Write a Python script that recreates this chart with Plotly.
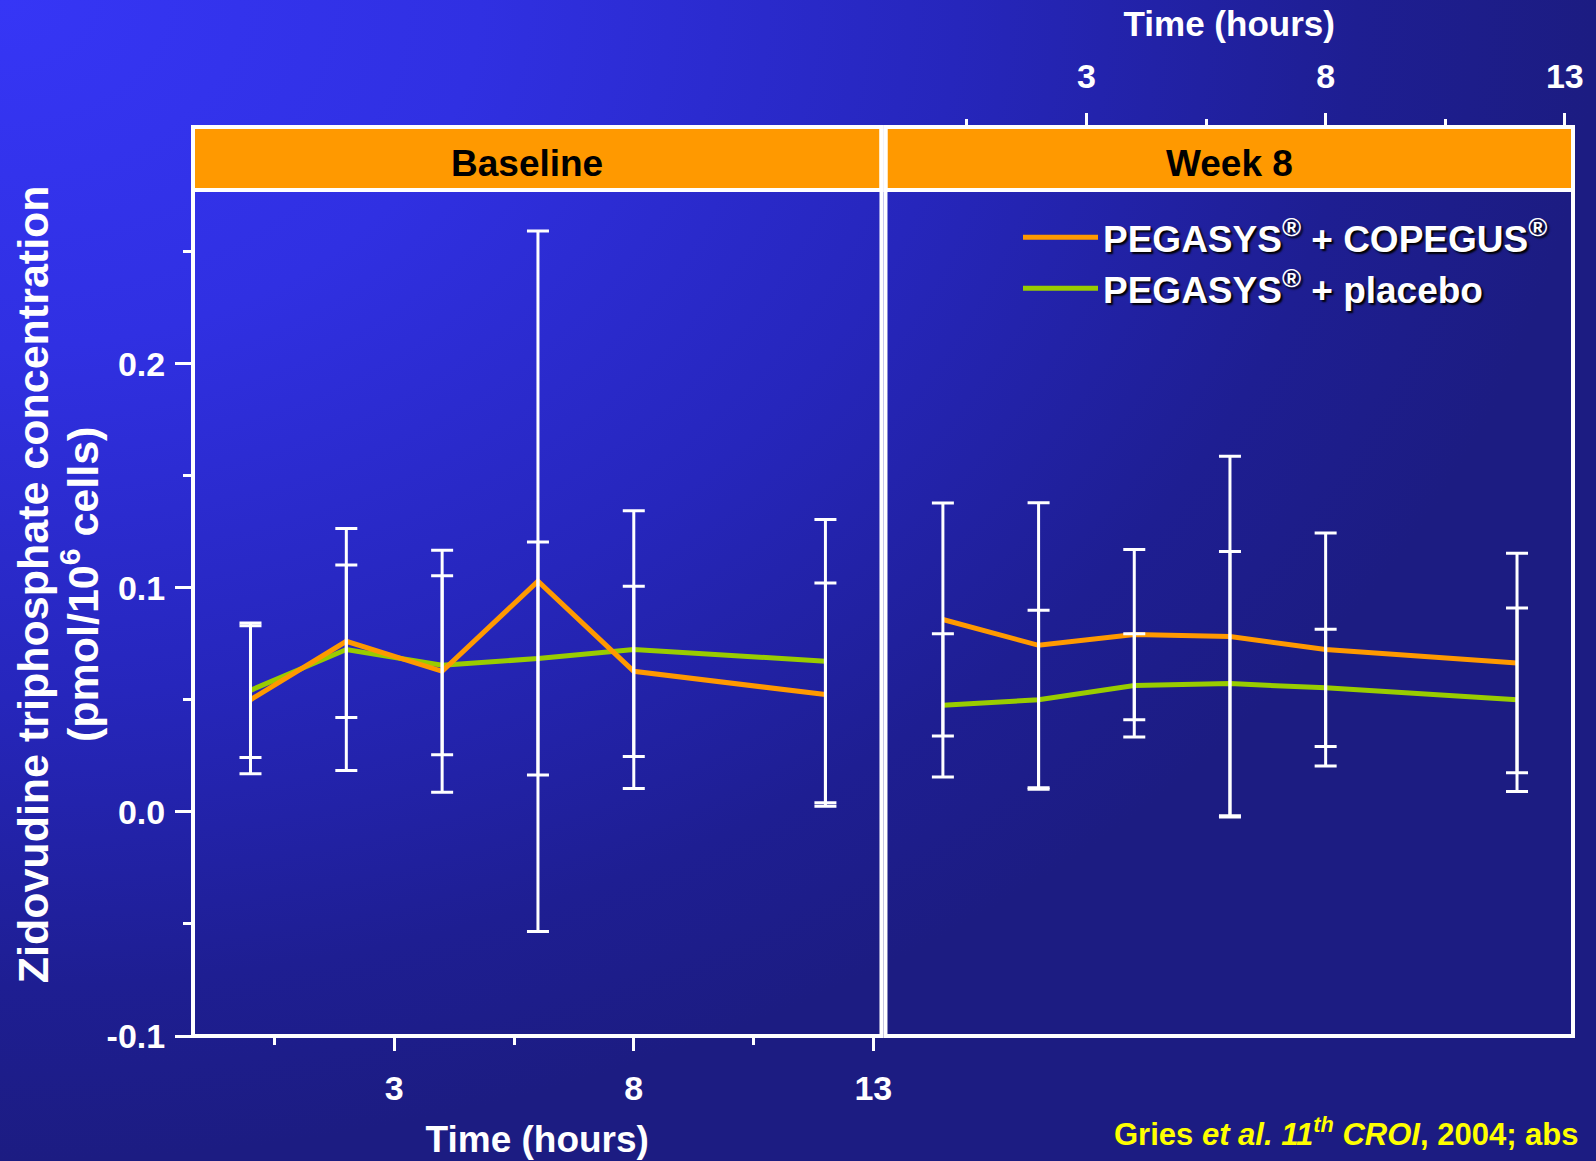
import base64
import plotly.graph_objects as go

# ---------------- data ----------------
time_h = [0, 2, 4, 6, 8, 12]

base_copegus_mean = [0.0501, 0.0762, 0.0628, 0.1030, 0.0628, 0.0524]
base_copegus_sd = [0.0330, 0.0340, 0.0540, 0.1563, 0.0380, 0.0498]
base_placebo_mean = [0.0543, 0.0725, 0.0655, 0.0685, 0.0725, 0.0673]
base_placebo_sd = [0.0300, 0.0540, 0.0400, 0.0520, 0.0620, 0.0632]

wk8_copegus_mean = [0.0859, 0.0744, 0.0792, 0.0783, 0.0725, 0.0665]
wk8_copegus_sd = [0.0520, 0.0636, 0.0380, 0.0805, 0.0520, 0.0490]
wk8_placebo_mean = [0.0476, 0.0501, 0.0565, 0.0573, 0.0554, 0.0501]
wk8_placebo_sd = [0.0320, 0.0400, 0.0230, 0.0590, 0.0262, 0.0410]

panel_titles = ["Baseline", "Week 8"]
series_names = ["PEGASYS<sup>®</sup> + COPEGUS<sup>®</sup>", "PEGASYS<sup>®</sup> + placebo"]
y_title_lines = ["Zidovudine triphosphate concentration", "(pmol/10<sup>6</sup> cells)"]
x_tickvals = [3, 8, 13]
x_minorvals = [0.5, 5.5, 10.5]
y_tickvals = [-0.1, 0.0, 0.1, 0.2]
y_ticktext = ["-0.1", "0.0", "0.1", "0.2"]
y_minorvals = [-0.05, 0.05, 0.15, 0.25]

# ---------------- style ----------------
ORANGE = "#FF9900"
GREEN = "#99CC00"
WHITE = "#FFFFFF"
FONT = "Liberation Sans, Arial, Helvetica, sans-serif"
W, H = 1596, 1161
ML, MR, MT, MB = 193, 23, 127, 125
PW, PH = W - ML - MR, H - MT - MB
XR = [-1.2, 13.17]
YR = [-0.1, 0.2776]
YDOM_TOP = 0.9306
STRIP = 1.0 / YDOM_TOP  # strip top in y-domain units

fig = go.Figure()

panels = [
    ("x", "y", base_copegus_mean, base_copegus_sd, base_placebo_mean, base_placebo_sd, True),
    ("x2", "y2", wk8_copegus_mean, wk8_copegus_sd, wk8_placebo_mean, wk8_placebo_sd, False),
]

for xa, ya, cm, cs, pm, ps, show in panels:
    # lines (placebo under, copegus on top)
    fig.add_trace(go.Scatter(x=time_h, y=pm, xaxis=xa, yaxis=ya, mode="lines",
                             line=dict(color=GREEN, width=5), name=series_names[1],
                             legendrank=2, showlegend=show, legendgroup="pl"))
    fig.add_trace(go.Scatter(x=time_h, y=cm, xaxis=xa, yaxis=ya, mode="lines",
                             line=dict(color=ORANGE, width=5), name=series_names[0],
                             legendrank=1, showlegend=show, legendgroup="pc"))
    # error bars drawn on top
    for mean, sd, grp in ((pm, ps, "pl"), (cm, cs, "pc")):
        fig.add_trace(go.Scatter(x=time_h, y=mean, xaxis=xa, yaxis=ya, mode="markers",
                                 marker=dict(color="rgba(0,0,0,0)", size=1),
                                 error_y=dict(type="data", array=sd, visible=True,
                                              color=WHITE, thickness=3, width=11),
                                 showlegend=False, hoverinfo="skip", legendgroup=grp))

# background gradient
svg = (f"<svg xmlns='http://www.w3.org/2000/svg' width='{W}' height='{H}'>"
       "<defs><radialGradient id='g' cx='0' cy='0' r='1' gradientUnits='objectBoundingBox'>"
       "<stop offset='0' stop-color='#3636F6'/>"
       "<stop offset='0.3' stop-color='#3030E2'/>"
       "<stop offset='0.6' stop-color='#2626BC'/>"
       "<stop offset='0.85' stop-color='#1E1E92'/>"
       "<stop offset='1' stop-color='#1C1C82'/>"
       "</radialGradient></defs>"
       f"<rect width='{W}' height='{H}' fill='url(#g)'/></svg>")
src = "data:image/svg+xml;base64," + base64.b64encode(svg.encode()).decode()

tickfont = dict(family=FONT, size=34, color=WHITE, weight="bold")

fig.update_layout(
    width=W, height=H,
    margin=dict(l=ML, r=MR, t=MT, b=MB, pad=0),
    paper_bgcolor="#1B1B7C",
    plot_bgcolor="rgba(0,0,0,0)",
    images=[dict(source=src, xref="paper", yref="paper",
                 x=-ML / PW, y=1 + MT / PH, sizex=W / PW, sizey=H / PH,
                 xanchor="left", yanchor="top", sizing="stretch", layer="below")],
    xaxis=dict(domain=[0, 0.4989], range=XR, anchor="y", side="bottom",
               showgrid=False, zeroline=False, showline=False,
               ticks="outside", ticklen=14, tickwidth=3, tickcolor=WHITE,
               tickvals=x_tickvals, tickfont=tickfont, ticklabelstandoff=8,
               minor=dict(tickvals=x_minorvals, ticks="outside", ticklen=8,
                          tickwidth=3, tickcolor=WHITE),
               title=dict(text="Time (hours)", standoff=20,
                          font=dict(family=FONT, size=37, color=WHITE, weight="bold")),
               automargin=False),
    xaxis2=dict(domain=[0.5018, 1.0], range=XR, anchor="free", position=1.0, side="top",
                showgrid=False, zeroline=False, showline=False,
                ticks="outside", ticklen=14, tickwidth=3, tickcolor=WHITE,
                tickvals=x_tickvals, tickfont=tickfont, ticklabelstandoff=11,
                minor=dict(tickvals=x_minorvals, ticks="outside", ticklen=8,
                           tickwidth=3, tickcolor=WHITE),
                title=dict(text="Time (hours)", standoff=9,
                           font=dict(family=FONT, size=35, color=WHITE, weight="bold")),
                automargin=False),
    yaxis=dict(domain=[0, YDOM_TOP], range=YR, anchor="x",
               showgrid=False, zeroline=False, showline=False,
               ticks="outside", ticklen=17, tickwidth=3, tickcolor=WHITE,
               tickvals=y_tickvals, ticktext=y_ticktext, tickfont=tickfont,
               ticklabelstandoff=3,
               minor=dict(tickvals=y_minorvals, ticks="outside", ticklen=9,
                          tickwidth=3, tickcolor=WHITE),
               automargin=False),
    yaxis2=dict(domain=[0, YDOM_TOP], range=YR, anchor="x2", matches="y",
                showgrid=False, zeroline=False, showline=False,
                showticklabels=False, ticks=""),
    legend=dict(x=(1018 - ML) / PW, y=(1036.3 - 207) / PH, xanchor="left", yanchor="top",
                bgcolor="rgba(0,0,0,0)", borderwidth=0, itemwidth=75,
                font=dict(family=FONT, size=37, color=WHITE, weight="bold",
                          shadow="2px 2px 2px #000000"),
                tracegroupgap=0),
    showlegend=True,
)

shapes = []
annotations = []
for i, (xa, ya) in enumerate((("x", "y"), ("x2", "y2"))):
    xd, yd = f"{xa} domain", f"{ya} domain"
    shapes.append(dict(type="rect", xref=xd, yref=yd, x0=0, x1=1, y0=1, y1=STRIP,
                       fillcolor=ORANGE, line=dict(color=WHITE, width=4), layer="above"))
    shapes.append(dict(type="rect", xref=xd, yref=yd, x0=0, x1=1, y0=0, y1=STRIP,
                       fillcolor="rgba(0,0,0,0)", line=dict(color=WHITE, width=4), layer="above"))
    annotations.append(dict(text=panel_titles[i], xref=xd, yref=yd,
                            x=0.485 if i == 0 else 0.5, y=(1 + STRIP) / 2 - 0.006,
                            xanchor="center", yanchor="middle", showarrow=False,
                            font=dict(family=FONT, size=37, color="#000000", weight="bold")))

# y-axis title (two lines)
for line_text, xpx in zip(y_title_lines, (32.6, 79.4)):
    annotations.append(dict(text=line_text, textangle=-90,
                            xref="paper", yref="paper", x=(xpx - ML) / PW, y=(1036.3 - 585) / PH,
                            xanchor="center", yanchor="middle", showarrow=False,
                            font=dict(family=FONT, size=43, color=WHITE, weight="bold")))

annotations.append(dict(
    text="Gries <i>et al. 11<sup>th</sup> CROI</i>, 2004; abs",
    xref="paper", yref="paper", x=(1112 - ML) / PW, y=-(1132 - 1036.3) / PH,
    xanchor="left", yanchor="middle", showarrow=False,
    font=dict(family=FONT, size=31, color="#FFFF00", weight="bold")))

fig.update_layout(shapes=shapes, annotations=annotations)
fig.write_html("out.html")
